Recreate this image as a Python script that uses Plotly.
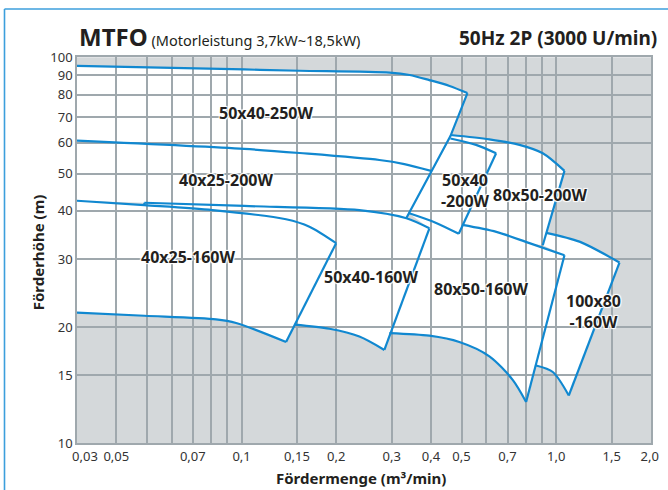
import numpy as np
import plotly.graph_objects as go

# ---------------- data (flow Q in m3/min, head H in m) ----------------
x_tick_vals = [0.0318, 0.04, 0.07, 0.1, 0.15, 0.2, 0.3, 0.4, 0.5, 0.7, 1.0, 1.5, 1.98]
x_tick_text = ["0,03", "0,05", "0,07", "0,1", "0,15", "0,2", "0,3", "0,4", "0,5", "0,7", "1,0", "1,5", "2,0"]
x_grid_vals = [0.04, 0.05, 0.06, 0.07, 0.08, 0.09, 0.1, 0.15, 0.2, 0.3, 0.4, 0.5, 0.6, 0.7, 0.8, 0.9, 1.0, 1.5]
y_tick_vals = [10, 15, 20, 30, 40, 50, 60, 70, 80, 90, 100]
y_tick_text = ["10", "15", "20", "30", "40", "50", "60", "70", "80", "90", "100"]

# curved boundaries
top_250_q = [0.03, 0.102, 0.153, 0.295, 0.342, 0.395, 0.458, 0.522]
top_250_h = [95, 93, 92.3, 91.3, 90, 87.3, 84.3, 80.8]
c60_q = [0.03, 0.102, 0.153, 0.274, 0.329, 0.40]
c60_h = [60.8, 57.9, 56.5, 54.2, 52.9, 50.8]
low42_q = [0.03, 0.0491, 0.0809, 0.1385, 0.1643, 0.1998]
low42_h = [42.5, 41.4, 40.2, 38.05, 36.4, 33.0]
bot_4025_160_q = [0.03, 0.0491, 0.083, 0.0961, 0.1385]
bot_4025_160_h = [21.8, 21.4, 20.95, 20.5, 18.3]
top_5040_160_q = [0.0491, 0.102, 0.2368, 0.3341, 0.3953]
top_5040_160_h = [42.0, 41.2, 40.2, 38.3, 36.06]
bot_5040_160_q = [0.1472, 0.1902, 0.2368, 0.2843]
bot_5040_160_h = [20.3, 19.8, 18.9, 17.45]
top_5040_200_q = [0.461, 0.556, 0.644]
top_5040_200_h = [61.6, 59.3, 56.4]
bot_5040_200_q = [0.339, 0.410, 0.490]
bot_5040_200_h = [39.5, 37.4, 34.9]
top_8050_200_q = [0.461, 0.613, 0.764, 0.906, 1.062]
top_8050_200_h = [62.9, 61.3, 59.3, 56.4, 50.8]
top_8050_160_q = [0.503, 0.645, 0.822, 1.062]
top_8050_160_h = [36.8, 35.3, 33.0, 30.7]
bot_8050_160_q = [0.295, 0.395, 0.492, 0.613, 0.727, 0.802]
bot_8050_160_h = [19.3, 19.0, 18.3, 16.8, 14.6, 12.8]
top_100_q = [0.929, 1.185, 1.588]
top_100_h = [35.1, 33.3, 29.4]
bot_100_q = [0.863, 0.975, 1.096]
bot_100_h = [15.9, 15.3, 13.3]

# straight boundaries
edge_250_q = [0.522, 0.461, 0.334]
edge_250_h = [80.8, 62.5, 38.35]
edge_4025_160_q = [0.1998, 0.1385]
edge_4025_160_h = [33.0, 18.3]
tick_5040_160_q = [0.0491, 0.0491]
tick_5040_160_h = [41.4, 42.0]
edge_5040_160_q = [0.3953, 0.2843]
edge_5040_160_h = [36.06, 17.45]
edge_5040_200_q = [0.644, 0.490]
edge_5040_200_h = [56.4, 34.9]
edge_8050_200_q = [1.062, 0.906]
edge_8050_200_h = [50.8, 32.6]
edge_8050_160_q = [1.062, 0.802]
edge_8050_160_h = [30.7, 12.8]
edge_100_q = [1.588, 1.096]
edge_100_h = [29.4, 13.3]

# model labels
label_text = ["50x40-250W", "40x25-200W", "40x25-160W", "50x40-160W",
              "50x40<br>-200W", "80x50-200W", "80x50-160W", "100x80<br>-160W"]
label_q = [0.12, 0.0894, 0.0675, 0.257, 0.514, 0.885, 0.578, 1.312]
label_h = [71.7, 48.1, 30.4, 27.0, 45.3, 44.0, 25.1, 22.0]

# ---------------- styling ----------------
BLUE = "#1188d0"
GRID = "#9fa8ad"
BG = "#d4d8da"
TXT = "#231f20"
FRAME = "#3c9fdc"
FONT = "Noto Sans"
W, H = 668, 490


def pts(q, h):
    return list(zip(q, h))


def rev(p):
    return list(reversed(p))


polys = [
    pts(top_250_q, top_250_h) + [(edge_250_q[1], edge_250_h[1])] + rev(pts(c60_q, c60_h)),
    pts(c60_q, c60_h) + [(edge_250_q[2], edge_250_h[2])] + rev(pts(top_5040_160_q, top_5040_160_h))
    + [(low42_q[0], low42_h[0])],
    pts(top_5040_200_q, top_5040_200_h) + rev(pts(bot_5040_200_q, bot_5040_200_h)),
    pts(top_8050_200_q, top_8050_200_h) + [(edge_8050_200_q[1], edge_8050_200_h[1])]
    + rev(pts(top_8050_160_q, top_8050_160_h)[:-1]) + rev(pts(top_5040_200_q, top_5040_200_h)),
    pts(low42_q, low42_h) + rev(pts(bot_4025_160_q, bot_4025_160_h)),
    pts(top_5040_160_q, top_5040_160_h) + rev(pts(bot_5040_160_q, bot_5040_160_h))
    + rev(pts(low42_q, low42_h))[:-1],
    pts(top_8050_160_q, top_8050_160_h) + rev(pts(bot_8050_160_q, bot_8050_160_h))
    + [(edge_5040_160_q[0], edge_5040_160_h[0])] + pts(bot_5040_200_q, bot_5040_200_h),
    pts(top_100_q, top_100_h) + rev(pts(bot_100_q, bot_100_h))
    + [(edge_8050_160_q[0], edge_8050_160_h[0]), (edge_8050_200_q[1], edge_8050_200_h[1])],
]

fig = go.Figure()

shapes = []
for p in polys:
    path = "M " + " L ".join(f"{q},{h}" for q, h in p) + " Z"
    shapes.append(dict(type="path", xref="x", yref="y", path=path,
                       fillcolor="white", line=dict(width=0), layer="below"))

curves = [
    (top_250_q, top_250_h), (c60_q, c60_h), (low42_q, low42_h),
    (bot_4025_160_q, bot_4025_160_h), (top_5040_160_q, top_5040_160_h),
    (bot_5040_160_q, bot_5040_160_h), (top_5040_200_q, top_5040_200_h),
    (bot_5040_200_q, bot_5040_200_h), (top_8050_200_q, top_8050_200_h),
    (top_8050_160_q, top_8050_160_h), (bot_8050_160_q, bot_8050_160_h),
    (top_100_q, top_100_h), (bot_100_q, bot_100_h),
]
edges = [
    (edge_250_q, edge_250_h), (edge_4025_160_q, edge_4025_160_h),
    (tick_5040_160_q, tick_5040_160_h), (edge_5040_160_q, edge_5040_160_h),
    (edge_5040_200_q, edge_5040_200_h), (edge_8050_200_q, edge_8050_200_h),
    (edge_8050_160_q, edge_8050_160_h), (edge_100_q, edge_100_h),
]
for q, h in curves:
    fig.add_trace(go.Scatter(x=q, y=h, mode="lines", hoverinfo="skip",
                             line=dict(color=BLUE, width=2.2, shape="spline", smoothing=0.8)))
for q, h in edges:
    fig.add_trace(go.Scatter(x=q, y=h, mode="lines", hoverinfo="skip",
                             line=dict(color=BLUE, width=2.2)))

halo = "1px 1px 1px white, -1px -1px 1px white, 1px -1px 1px white, -1px 1px 1px white"
annotations = []
for t, q, h in zip(label_text, label_q, label_h):
    annotations.append(dict(x=np.log10(q), y=np.log10(h), xref="x", yref="y", text=f"<b>{t}</b>",
                            showarrow=False, font=dict(family=FONT, size=16, color=TXT, shadow=halo)))

# titles (paper = whole figure, margins are zero)
annotations += [
    dict(x=77 / W, y=1 - 36.8 / H, xref="paper", yref="paper", xanchor="left", yanchor="middle",
         text="<b>MTFO</b><span style='font-size:14.5px'> (Motorleistung 3,7kW~18,5kW)</span>",
         showarrow=False, font=dict(family=FONT, size=24, color=TXT)),
    dict(x=659 / W, y=1 - 37.6 / H, xref="paper", yref="paper", xanchor="right", yanchor="middle",
         text="<b>50Hz 2P (3000 U/min)</b>", showarrow=False,
         font=dict(family=FONT, size=19, color=TXT)),
    dict(x=360.6 / W, y=1 - 478 / H, xref="paper", yref="paper", xanchor="center", yanchor="middle",
         text="<b>Fördermenge (m³/min)</b>", showarrow=False,
         font=dict(family=FONT, size=15, color=TXT)),
    dict(x=38.3 / W, y=1 - 252 / H, xref="paper", yref="paper", xanchor="center", yanchor="middle",
         text="<b>Förderhöhe (m)</b>", textangle=-90, showarrow=False,
         font=dict(family=FONT, size=15, color=TXT)),
]

# light-blue frame (left and top edges)
shapes += [
    dict(type="line", xref="paper", yref="paper", x0=4.5 / W, x1=4.5 / W, y0=0, y1=1 - 9 / H,
         line=dict(color=FRAME, width=1.6), layer="above"),
    dict(type="line", xref="paper", yref="paper", x0=4.5 / W, x1=1, y0=1 - 9 / H, y1=1 - 9 / H,
         line=dict(color=FRAME, width=1.6), layer="above"),
]

fig.update_layout(
    width=W, height=H,
    margin=dict(l=0, r=0, t=0, b=0, autoexpand=False),
    paper_bgcolor="white", plot_bgcolor=BG,
    showlegend=False,
    font=dict(family=FONT, color=TXT),
    shapes=shapes, annotations=annotations,
)
fig.update_xaxes(
    domain=[77 / W, 651 / W], automargin=False,
    type="log", range=[np.log10(0.03), np.log10(2.0)],
    tickmode="array", tickvals=x_tick_vals, ticktext=x_tick_text,
    showgrid=False, zeroline=False,
    minor=dict(tickmode="array", tickvals=x_grid_vals, showgrid=True, gridcolor=GRID, gridwidth=1.5, ticks=""),
    showline=True, linecolor=GRID, linewidth=1.5, mirror=True,
    ticks="", tickfont=dict(family=FONT, size=13, color="#333333"),
)
fig.update_yaxes(
    domain=[1 - 443.3 / H, 1 - 57.3 / H], automargin=False,
    type="log", range=[1, 2],
    tickmode="array", tickvals=y_tick_vals, ticktext=y_tick_text,
    showgrid=True, gridcolor=GRID, gridwidth=1.5, zeroline=False,
    showline=True, linecolor=GRID, linewidth=1.5, mirror=True,
    ticks="", tickfont=dict(family=FONT, size=13, color="#333333"),
)

fig.write_html("out.html", config={"displayModeBar": False},
               post_script="document.body.style.margin='0';document.body.style.overflow='hidden';")
